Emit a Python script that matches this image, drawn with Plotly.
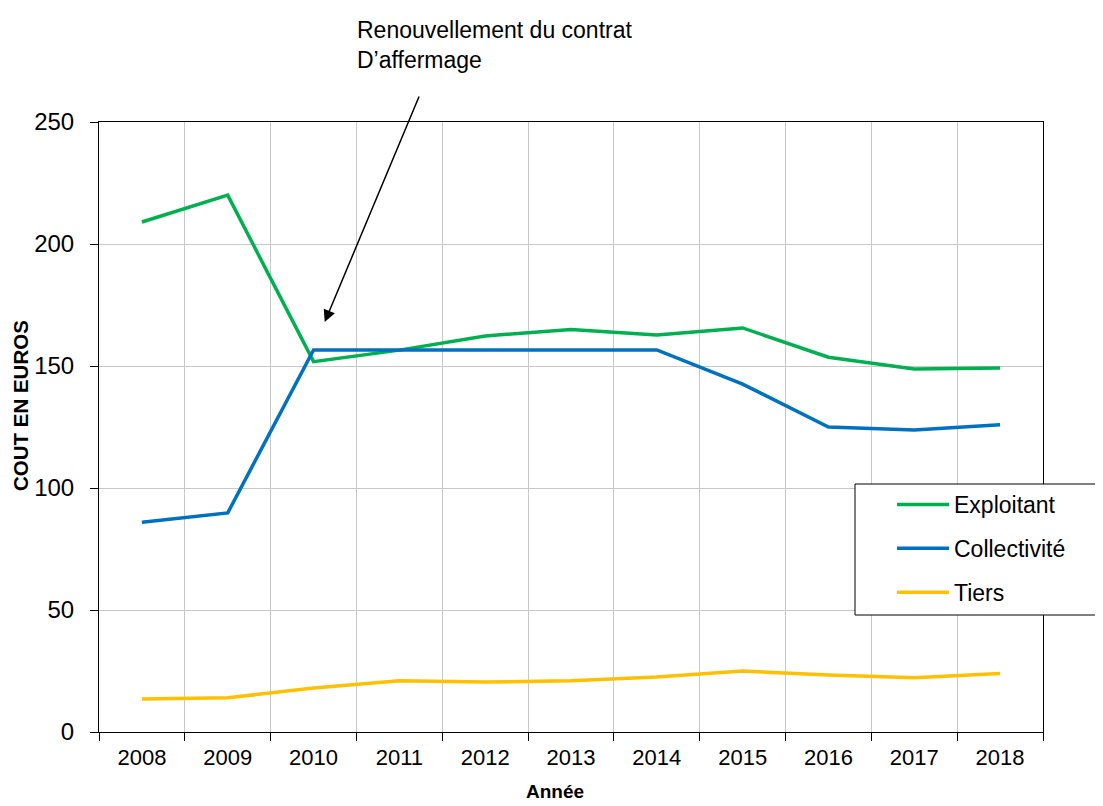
import plotly.graph_objects as go

years = ["2008", "2009", "2010", "2011", "2012", "2013", "2014", "2015", "2016", "2017", "2018"]
exploitant = [209, 220, 151.8, 156.5, 162.3, 165, 162.7, 165.6, 153.6, 148.8, 149.2]
collectivite = [86, 89.8, 156.6, 156.6, 156.6, 156.6, 156.6, 142.6, 125, 123.8, 125.9]
tiers = [13.5, 14, 18, 21, 20.5, 21, 22.5, 25, 23.4, 22.2, 24]

series_names = ["Exploitant", "Collectivité", "Tiers"]
series_values = [exploitant, collectivite, tiers]
series_colors = ["#00B050", "#0070C0", "#FFC000"]

fig = go.Figure()
for name, vals, col in zip(series_names, series_values, series_colors):
    fig.add_trace(go.Scatter(
        x=years, y=vals, mode="lines", name=name, legendgroup=name,
        line=dict(color=col, width=3.5),
    ))

# page body has an 8px margin; figure is placed at (8, 8)
OFF = 8
W, H = 1103 - OFF, 806 - OFF
L, R, T, B = 99 - OFF, 60, 122 - OFF, 74
pw, ph = W - L - R, H - T - B

def px_x(p):
    return (p - OFF - L) / pw

def px_y(p):
    return (H - B - (p - OFF)) / ph

# legend frame
fig.add_shape(type="rect", xref="paper", yref="paper",
              x0=px_x(855), x1=px_x(1125), y0=px_y(615), y1=px_y(484),
              line=dict(color="black", width=1), fillcolor="white", layer="above")

fig.update_layout(
    width=W, height=H,
    margin=dict(l=L, r=R, t=T, b=B, autoexpand=False),
    paper_bgcolor="white", plot_bgcolor="white",
    font=dict(family="Liberation Sans, Arial, sans-serif", color="black"),
    showlegend=True,
    legend=dict(
        x=px_x(892), y=px_y(483), xanchor="left", yanchor="top",
        bgcolor="rgba(0,0,0,0)", borderwidth=0,
        font=dict(size=23, color="black"),
        traceorder="grouped", tracegroupgap=11, itemwidth=52,
    ),
    xaxis=dict(
        type="category", range=[-0.5, 10.5], tickson="boundaries",
        ticks="outside", ticklen=8, tickcolor="black", tickwidth=1,
        showline=True, linecolor="black", linewidth=1, mirror=True,
        showgrid=True, gridcolor="#C8C8C8", gridwidth=1,
        tickfont=dict(size=22), ticklabelstandoff=6,
        fixedrange=True,
    ),
    yaxis=dict(
        range=[0, 250], tickvals=[0, 50, 100, 150, 200, 250],
        ticks="outside", ticklen=8, tickcolor="black", tickwidth=1,
        showline=True, linecolor="black", linewidth=1, mirror=True,
        showgrid=True, gridcolor="#C8C8C8", gridwidth=1, zeroline=False,
        tickfont=dict(size=24), ticklabelstandoff=11,
        fixedrange=True,
    ),
)

# axis titles
fig.add_annotation(
    xref="paper", yref="paper", x=px_x(555), y=px_y(804),
    xanchor="center", yanchor="bottom", showarrow=False,
    text="<b>Année</b>", font=dict(size=19, color="black"),
)
fig.add_annotation(
    xref="paper", yref="paper", x=px_x(20), y=px_y(406),
    xanchor="center", yanchor="middle", showarrow=False, textangle=-90,
    text="<b>COUT EN EUROS</b>", font=dict(size=20.5, color="black"),
)

fig.add_annotation(
    xref="paper", yref="paper", x=px_x(355), y=px_y(15),
    xanchor="left", yanchor="top", align="left", showarrow=False,
    text="Renouvellement du contrat<br>D’affermage",
    font=dict(size=23, color="black"),
)
fig.add_annotation(
    xref="x", yref="y", x=2.13, y=168, axref="pixel", ayref="pixel",
    ax=95, ay=-227, text="", showarrow=True,
    arrowhead=2, arrowsize=1.6, arrowwidth=1.5, arrowcolor="black",
)

fig.write_html("out.html")
